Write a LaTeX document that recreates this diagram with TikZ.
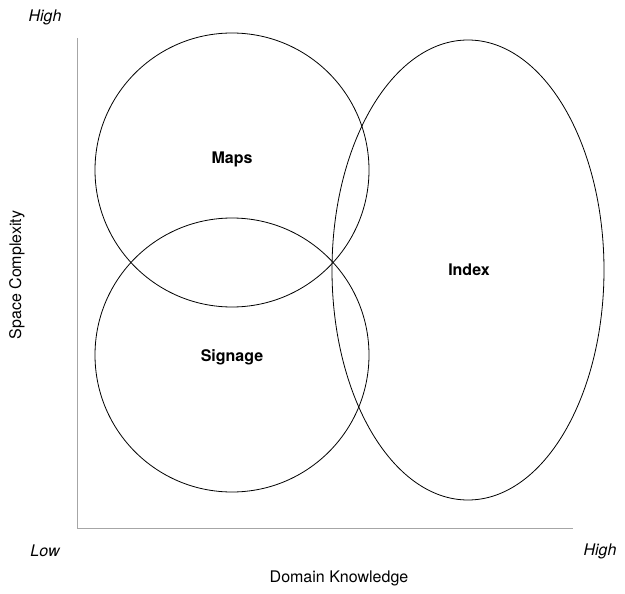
\documentclass[tikz,border=0pt]{standalone}
\usepackage{fontspec}
\setmainfont{TeX Gyre Heros}
\begin{document}
\begin{tikzpicture}[x=1pt,y=-1pt,
  shapeline/.style={draw=black,line width=0.8pt},
  axis/.style={draw=gray!70,line width=1pt},
  lbl/.style={font=\fontsize{16}{18}\selectfont\bfseries},
  axlbl/.style={font=\fontsize{16}{18}\selectfont},
  itlbl/.style={font=\fontsize{16}{18}\selectfont\itshape}]
\useasboundingbox (0,0) rectangle (625,594);
\coordinate (top) at (77,38);
\coordinate (origin) at (77,528);
\coordinate (right) at (573,528);
\draw[axis] (top) -- (origin) -- (right);
\draw[shapeline] (232,170) circle (137);
\draw[shapeline] (232,355) circle (137);
\draw[shapeline] (468,270) ellipse (136 and 230);
\node[lbl] (maps) at (232,159) {Maps};
\node[lbl] (signage) at (232,357) {Signage};
\node[lbl] (index) at (469,270) {Index};
\node[itlbl] (high1) at (45,17) {High};
\node[itlbl] (low) at (45,551) {Low};
\node[itlbl] (high2) at (600,551) {High};
\node[axlbl] (dk) at (339,578) {Domain Knowledge};
\node[axlbl,rotate=90] (sc) at (17,275) {Space Complexity};
\end{tikzpicture}
\end{document}
